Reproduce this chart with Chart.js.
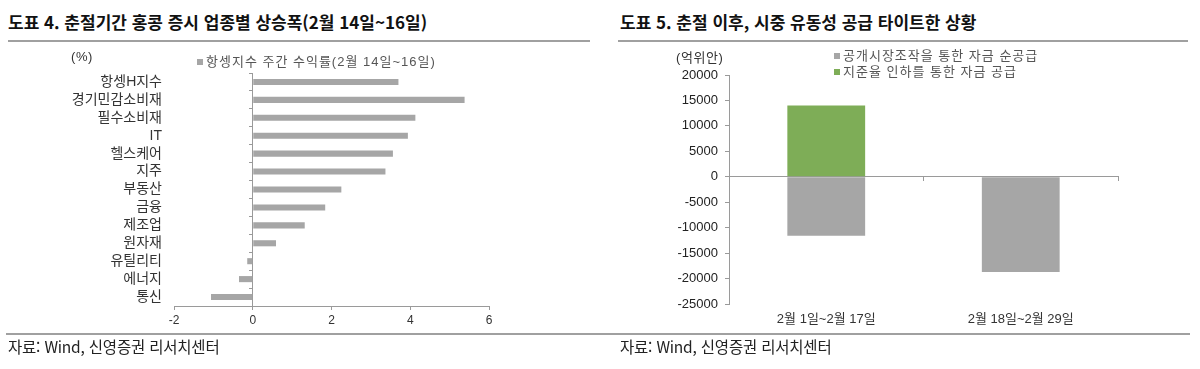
<!DOCTYPE html>
<html lang="ko">
<head>
<meta charset="utf-8">
<script src="https://cdn.jsdelivr.net/npm/chart.js@4/dist/chart.umd.min.js"></script>
<style>
  body { margin: 0; width: 1200px; height: 369px; background: #fff; position: relative; overflow: hidden;
         font-family: "Noto Sans CJK KR", "Liberation Sans", sans-serif; }
  canvas { position: absolute; top: 0; }
  .title { position: absolute; top: 9px; font-size: 17px; font-weight: bold; color: #111; letter-spacing: 0; }
  .rule { position: absolute; height: 2px; background: #a0a0a0; }
  .unit { position: absolute; font-size: 13px; color: #333; letter-spacing: 0.6px; font-family: "Liberation Sans", "Noto Sans CJK KR", sans-serif; }
  .legend { position: absolute; font-size: 13px; color: #555; line-height: 16px; letter-spacing: 1px; font-family: "Liberation Sans", "Noto Sans CJK KR", sans-serif; }
  .legend i { display: inline-block; width: 6px; height: 6px; margin-right: 3px; vertical-align: 1px; }
  .source { position: absolute; top: 335px; font-size: 15.5px; color: #222; letter-spacing: -0.2px; }
</style>
</head>
<body>
<div class="title" style="left:8px">도표 4. 춘절기간 홍콩 증시 업종별 상승폭(2월 14일~16일)</div>
<div class="title" style="left:620px">도표 5. 춘절 이후, 시중 유동성 공급 타이트한 상황</div>
<div class="rule" style="left:8px; width:582px; top:40px"></div>
<div class="rule" style="left:618px; width:570px; top:40px"></div>

<canvas id="sectorChart" width="600" height="369" style="left:0"></canvas>
<canvas id="liquidityChart" width="600" height="369" style="left:600px"></canvas>

<div class="unit" style="left:71px; top:49px">(%)</div>
<div class="legend" style="left:197px; top:54px"><i style="background:#a6a6a6"></i>항셍지수 주간 수익률(2월 14일~16일)</div>

<div class="unit" style="left:676px; top:47px">(억위안)</div>
<div class="legend" style="left:834px; top:48px"><i style="background:#a6a6a6"></i>공개시장조작을 통한 자금 순공급<br><i style="background:#7ead57"></i>지준율 인하를 통한 자금 공급</div>

<div class="rule" style="left:6px; width:1184px; top:333px"></div>
<div class="source" style="left:8px">자료: Wind, 신영증권 리서치센터</div>
<div class="source" style="left:620px">자료: Wind, 신영증권 리서치센터</div>

<script>
// -------------------------
// Data
// -------------------------
const sectorLabels = ["항셍H지수", "경기민감소비재", "필수소비재", "IT", "헬스케어", "지주", "부동산", "금융", "제조업", "원자재", "유틸리티", "에너지", "통신"];
const weeklyReturn = [3.70, 5.38, 4.13, 3.94, 3.56, 3.37, 2.25, 1.84, 1.32, 0.59, -0.14, -0.35, -1.06];

const periodLabels = ["2월 1일~2월 17일", "2월 18일~2월 29일"];
const omoSupply = [-11600, -18700];
const rrrSupply = [14000, 0];

const GREY = "#a6a6a6";
const GREEN = "#7ead57";
const AXIS = "#9a9a9a";

Chart.defaults.font.family = "'Liberation Sans', 'Noto Sans CJK KR', sans-serif";
Chart.defaults.color = "#333";
Chart.defaults.animation = false;

// -------------------------
// 도표 4 : horizontal bars
// -------------------------
new Chart(document.getElementById("sectorChart"), {
  type: "bar",
  data: {
    labels: sectorLabels,
    datasets: [
      { label: "항셍지수 주간 수익률(2월 14일~16일)", data: weeklyReturn, backgroundColor: GREY,
        barPercentage: 0.34, categoryPercentage: 1 },
    ],
  },
  options: {
    indexAxis: "y",
    responsive: false,
    layout: { padding: { top: 73, right: 111, bottom: 33, left: 0 } },
    plugins: { legend: { display: false }, tooltip: { enabled: false } },
    scales: {
      x: {
        min: -2, max: 6,
        ticks: { stepSize: 2, padding: 3, font: { size: 12 }, color: "#333" },
        grid: { drawOnChartArea: false, tickLength: 4, color: AXIS },
        border: { color: AXIS },
        afterFit: s => { s.height = 30; },
      },
      y: {
        grid: { display: false, drawTicks: false },
        border: { display: false },
        ticks: { autoSkip: false, padding: 12, font: { size: 14 }, color: "#333" },
        afterFit: s => { s.width = 174; },
      },
      // zero line with small category ticks
      y2: {
        type: "category", axis: "y", position: { x: 0 },
        offset: true,
        ticks: { display: false },
        grid: { offset: true, drawOnChartArea: false, tickLength: 3, color: AXIS },
        border: { color: AXIS },
      },
    },
  },
});

// -------------------------
// 도표 5 : stacked columns
// -------------------------
new Chart(document.getElementById("liquidityChart"), {
  type: "bar",
  data: {
    labels: periodLabels,
    datasets: [
      { label: "공개시장조작을 통한 자금 순공급", data: omoSupply, backgroundColor: GREY,
        barPercentage: 0.4, categoryPercentage: 1 },
      { label: "지준율 인하를 통한 자금 공급", data: rrrSupply, backgroundColor: GREEN,
        barPercentage: 0.4, categoryPercentage: 1 },
    ],
  },
  options: {
    responsive: false,
    layout: { padding: { top: 75, right: 82, bottom: 35, left: 0 } },
    plugins: { legend: { display: false }, tooltip: { enabled: false } },
    scales: {
      x: {
        stacked: true,
        grid: { display: false, drawTicks: false },
        border: { display: false },
        ticks: { autoSkip: false, padding: 8, font: { size: 13 }, color: "#333" },
        afterFit: s => { s.height = 30; },
      },
      x2: {
        type: "category", axis: "x", position: { y: 0 },
        offset: true,
        ticks: { display: false },
        grid: { offset: true, drawOnChartArea: false, tickLength: 4, color: AXIS },
        border: { color: AXIS },
      },
      y: {
        stacked: true,
        min: -25000, max: 20000,
        ticks: { stepSize: 5000, padding: 7, font: { size: 13 }, color: "#222", callback: v => String(v) },
        grid: { drawOnChartArea: false, tickLength: 4, color: AXIS },
        border: { color: AXIS },
        afterFit: s => { s.width = 129; },
      },
    },
  },
});
</script>
</body>
</html>
